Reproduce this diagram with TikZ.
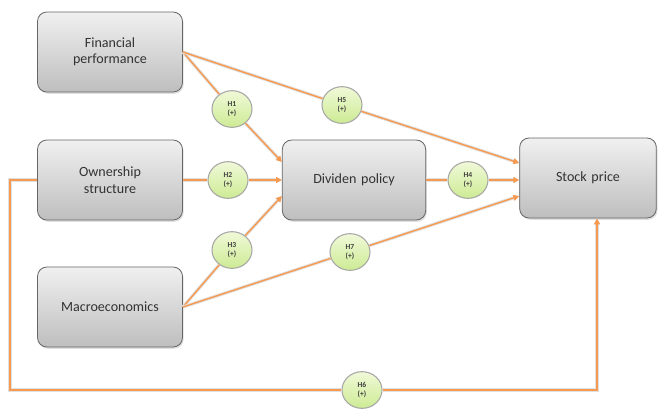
\documentclass[tikz,border=0pt]{standalone}
\usepackage{fontspec}
\setmainfont{Carlito}
\usetikzlibrary{shapes.geometric, arrows.meta, positioning, calc, shadows}

\definecolor{linkorange}{HTML}{F59A50}
\definecolor{boxtop}{HTML}{F0F0F0}
\definecolor{boxbottom}{HTML}{BEBEBE}
\definecolor{hypotop}{HTML}{F0F9D8}
\definecolor{hypobottom}{HTML}{CDEB94}

\begin{document}
\begin{tikzpicture}[
    x=0.03cm, y=-0.03cm,
    every node/.style={font=\large},
    factor/.style={
        rectangle,
        rounded corners=8pt,
        minimum width=4.35cm,
        minimum height=2.4cm,
        text width=3.6cm,
        align=center,
        draw=black!60,
        line width=0.7pt,
        top color=boxtop,
        bottom color=boxbottom,
        text=black!80,
        drop shadow={shadow xshift=1pt, shadow yshift=-1.5pt, fill=black!25, opacity=0.5}
    },
    hypo/.style={
        ellipse,
        minimum width=1.2cm,
        minimum height=1.1cm,
        inner sep=0pt,
        align=center,
        draw=black!35,
        line width=0.9pt,
        top color=hypotop,
        bottom color=hypobottom,
        text=black!75,
        font=\fontsize{6.5}{8}\selectfont\bfseries
    },
    link/.style={
        draw=linkorange,
        line width=1.2pt,
        preaction={draw=black!12, line width=2.8pt}
    },
    arrow/.style={
        link,
        -{Triangle[length=5pt, width=5pt]}
    }
]
\useasboundingbox (0,0) rectangle (658,408);

% --- factor nodes ---
\node (fin) [factor] at (110,52) {Financial\\performance};
\node (own) [factor] at (110,180) {Ownership\\structure};
\node (mac) [factor] at (110,307) {Macroeconomics};
\node (div) [factor, minimum width=4.3cm] at (354,180) {Dividen policy};
\node (stock) [factor, minimum width=4.1cm] at (588,178) {Stock price};

% --- hypothesis nodes ---
\node (h1) [hypo] at (232,109) {H1\\(+)};
\node (h2) [hypo] at (228,180) {H2\\(+)};
\node (h3) [hypo] at (232,250) {H3\\(+)};
\node (h4) [hypo] at (468,180) {H4\\(+)};
\node (h5) [hypo] at (342,105) {H5\\(+)};
\node (h6) [hypo] at (362,390) {H6\\(+)};
\node (h7) [hypo] at (350,252) {H7\\(+)};

% --- corners of the H6 path ---
\coordinate (left top) at (10,180);
\coordinate (left bottom) at (10,390);

% --- arrows ---
\draw [link] (fin.east) -- (h1);
\draw [arrow] (h1) -- ($(div.west)+(0,-18)$);
\draw [link] (fin.east) -- (h5);
\draw [arrow] (h5) -- ($(stock.west)+(0,-15)$);
\draw [link] (own.east) -- (h2);
\draw [arrow] (h2) -- (div.west);
\draw [link] (mac.east) -- (h3);
\draw [arrow] (h3) -- ($(div.west)+(0,16)$);
\draw [link] (mac.east) -- (h7);
\draw [arrow] (h7) -- ($(stock.west)+(0,18)$);
\draw [link] (div.east) -- (h4);
\draw [arrow] (h4) -- ($(stock.west)+(0,2)$);
\draw [link] (own.west) -- (left top) -- (left bottom) -- (h6);
\draw [arrow] (h6) -| ($(stock.south)+(9,0)$);

\end{tikzpicture}
\end{document}
